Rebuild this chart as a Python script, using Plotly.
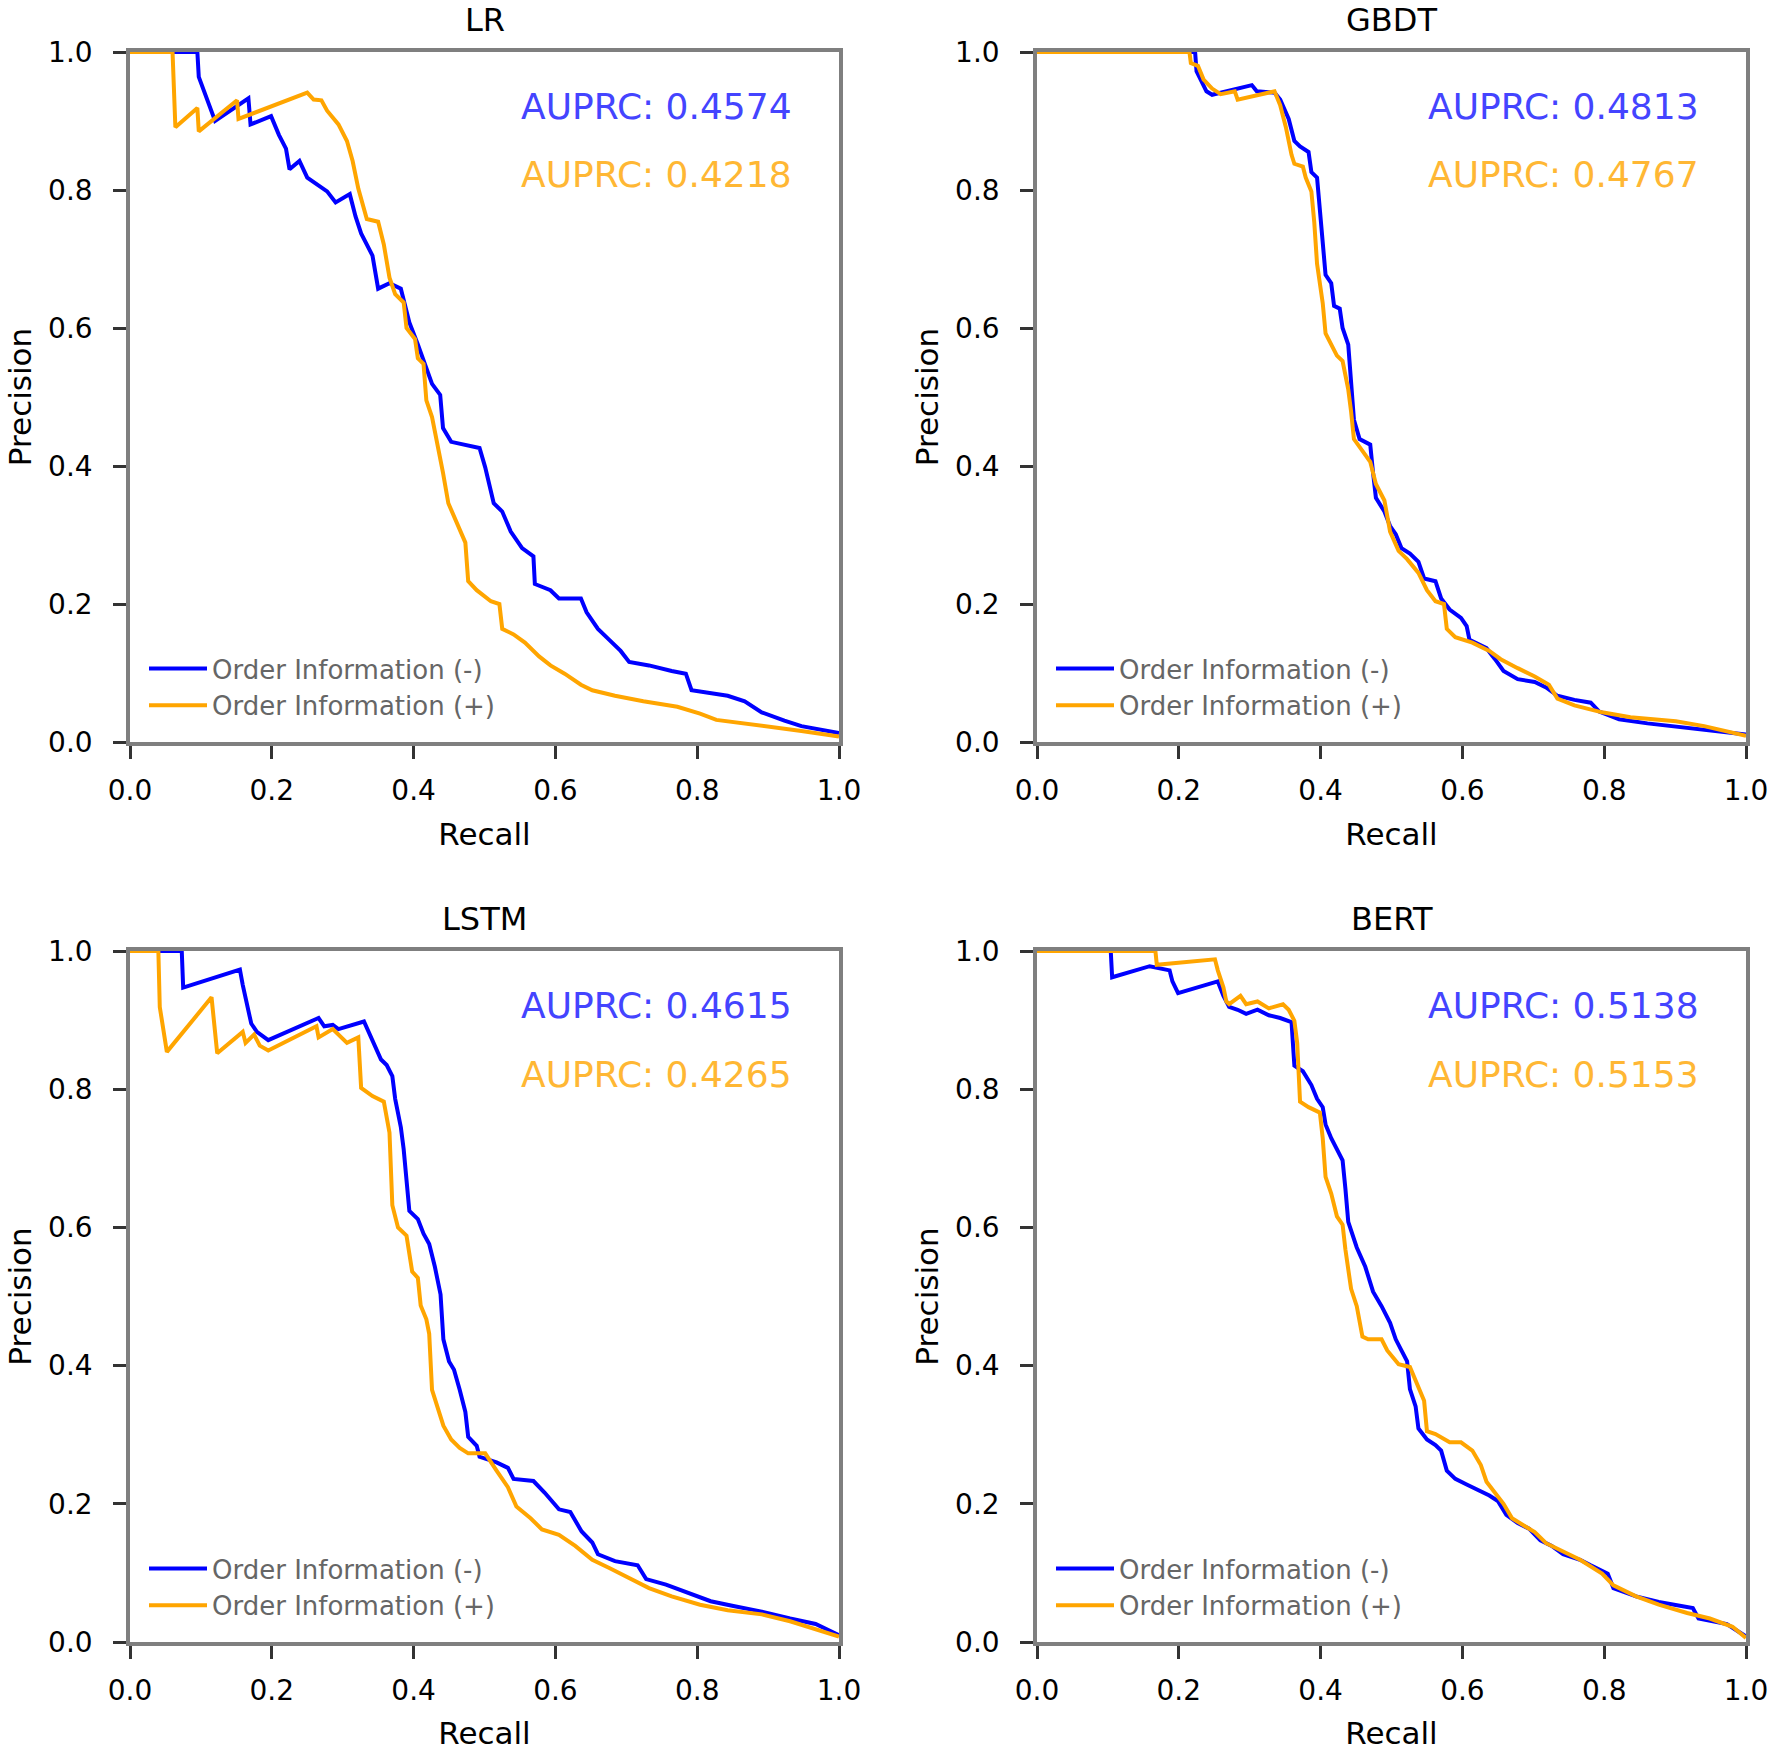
import plotly.graph_objects as go

# ---------------- data (recall, precision) ----------------
MODELS = ["LR", "GBDT", "LSTM", "BERT"]
SERIES_NAMES = ["Order Information (-)", "Order Information (+)"]
AUPRC_NEG = [0.4574, 0.4813, 0.4615, 0.5138]
AUPRC_POS = [0.4218, 0.4767, 0.4265, 0.5153]
TICKS = [0.0, 0.2, 0.4, 0.6, 0.8, 1.0]

LR_NEG = [(0,1),(0.095,1),(0.097,0.964),(0.11,0.93),(0.12,0.90),(0.167,0.933),(0.170,0.895),(0.199,0.907),(0.21,0.88),(0.22,0.86),(0.225,0.83),(0.239,0.842),(0.25,0.818),(0.278,0.798),(0.29,0.782),(0.31,0.794),(0.318,0.762),(0.326,0.737),(0.342,0.705),(0.35,0.657),(0.366,0.665),(0.382,0.657),(0.394,0.608),(0.406,0.576),(0.414,0.552),(0.426,0.519),(0.4375,0.503),(0.4415,0.455),(0.453,0.435),(0.469,0.431),(0.493,0.426),(0.501,0.398),(0.513,0.346),(0.525,0.334),(0.537,0.305),(0.553,0.281),(0.569,0.269),(0.571,0.229),(0.593,0.220),(0.605,0.208),(0.636,0.208),(0.644,0.188),(0.660,0.164),(0.676,0.148),(0.692,0.132),(0.704,0.116),(0.732,0.111),(0.764,0.103),(0.784,0.099),(0.792,0.075),(0.819,0.071),(0.843,0.067),(0.867,0.059),(0.891,0.043),(0.923,0.031),(0.947,0.023),(1.0,0.013)]
LR_POS = [(0,1),(0.06,1),(0.064,0.891),(0.095,0.919),(0.097,0.885),(0.151,0.93),(0.153,0.903),(0.25,0.941),(0.259,0.931),(0.27,0.93),(0.278,0.915),(0.294,0.895),(0.306,0.871),(0.314,0.842),(0.322,0.802),(0.330,0.770),(0.334,0.758),(0.35,0.754),(0.358,0.721),(0.366,0.673),(0.374,0.649),(0.386,0.637),(0.39,0.600),(0.402,0.584),(0.406,0.556),(0.414,0.548),(0.418,0.495),(0.426,0.471),(0.434,0.431),(0.4415,0.390),(0.449,0.346),(0.457,0.326),(0.465,0.309),(0.473,0.289),(0.477,0.233),(0.489,0.220),(0.509,0.204),(0.521,0.200),(0.525,0.164),(0.541,0.156),(0.557,0.144),(0.577,0.124),(0.593,0.111),(0.613,0.099),(0.636,0.083),(0.652,0.075),(0.684,0.067),(0.724,0.059),(0.772,0.051),(0.804,0.041),(0.827,0.032),(0.891,0.024),(0.947,0.016),(1.0,0.008)]

GBDT_NEG = [(0,1),(0.223,1),(0.225,0.972),(0.231,0.960),(0.239,0.943),(0.247,0.938),(0.303,0.952),(0.31,0.943),(0.335,0.941),(0.343,0.931),(0.355,0.903),(0.363,0.871),(0.371,0.863),(0.383,0.855),(0.387,0.826),(0.395,0.818),(0.399,0.770),(0.403,0.729),(0.407,0.677),(0.415,0.665),(0.419,0.632),(0.427,0.628),(0.431,0.600),(0.439,0.576),(0.443,0.527),(0.447,0.467),(0.455,0.439),(0.470,0.431),(0.474,0.390),(0.478,0.354),(0.490,0.334),(0.498,0.313),(0.506,0.301),(0.514,0.281),(0.526,0.273),(0.538,0.261),(0.546,0.237),(0.562,0.233),(0.570,0.208),(0.582,0.192),(0.598,0.180),(0.606,0.168),(0.610,0.148),(0.634,0.136),(0.646,0.120),(0.658,0.103),(0.678,0.091),(0.702,0.087),(0.718,0.079),(0.734,0.067),(0.758,0.061),(0.781,0.057),(0.793,0.044),(0.821,0.033),(0.861,0.027),(0.901,0.022),(0.941,0.017),(1.0,0.011)]
GBDT_POS = [(0,1),(0.215,1),(0.217,0.984),(0.227,0.98),(0.235,0.96),(0.247,0.947),(0.259,0.939),(0.279,0.943),(0.283,0.931),(0.335,0.943),(0.343,0.923),(0.351,0.891),(0.359,0.851),(0.363,0.838),(0.375,0.834),(0.379,0.818),(0.387,0.798),(0.391,0.754),(0.395,0.693),(0.403,0.636),(0.407,0.592),(0.415,0.576),(0.423,0.560),(0.431,0.552),(0.439,0.511),(0.443,0.479),(0.447,0.439),(0.459,0.422),(0.470,0.406),(0.478,0.374),(0.490,0.350),(0.498,0.305),(0.510,0.277),(0.522,0.265),(0.538,0.245),(0.550,0.220),(0.562,0.204),(0.574,0.200),(0.578,0.164),(0.590,0.152),(0.614,0.144),(0.638,0.132),(0.654,0.120),(0.678,0.107),(0.702,0.095),(0.722,0.083),(0.734,0.063),(0.758,0.053),(0.797,0.043),(0.837,0.036),(0.901,0.030),(0.941,0.023),(1.0,0.009)]

LSTM_NEG = [(0,1),(0.073,1),(0.075,0.947),(0.155,0.973),(0.159,0.951),(0.167,0.915),(0.171,0.895),(0.179,0.883),(0.195,0.871),(0.266,0.903),(0.274,0.891),(0.286,0.893),(0.294,0.887),(0.330,0.898),(0.338,0.879),(0.346,0.863),(0.354,0.843),(0.362,0.835),(0.370,0.819),(0.374,0.786),(0.382,0.745),(0.386,0.713),(0.390,0.668),(0.394,0.624),(0.406,0.612),(0.414,0.591),(0.422,0.576),(0.430,0.543),(0.438,0.503),(0.442,0.438),(0.450,0.406),(0.457,0.394),(0.465,0.365),(0.473,0.333),(0.477,0.297),(0.489,0.284),(0.493,0.268),(0.517,0.260),(0.533,0.252),(0.541,0.236),(0.569,0.233),(0.585,0.216),(0.605,0.192),(0.621,0.188),(0.637,0.160),(0.652,0.144),(0.660,0.127),(0.684,0.117),(0.716,0.111),(0.728,0.091),(0.756,0.083),(0.788,0.071),(0.819,0.059),(0.851,0.052),(0.891,0.044),(0.931,0.034),(0.967,0.026),(1.0,0.010)]
LSTM_POS = [(0,1),(0.040,1),(0.042,0.919),(0.052,0.854),(0.115,0.933),(0.123,0.852),(0.159,0.883),(0.163,0.867),(0.175,0.879),(0.183,0.863),(0.195,0.856),(0.263,0.891),(0.266,0.875),(0.286,0.887),(0.306,0.867),(0.322,0.875),(0.326,0.802),(0.342,0.790),(0.358,0.782),(0.366,0.737),(0.370,0.632),(0.378,0.600),(0.390,0.588),(0.398,0.536),(0.406,0.527),(0.410,0.487),(0.418,0.467),(0.422,0.446),(0.426,0.365),(0.434,0.341),(0.442,0.313),(0.453,0.293),(0.465,0.281),(0.477,0.273),(0.501,0.273),(0.517,0.248),(0.533,0.224),(0.545,0.196),(0.565,0.179),(0.581,0.163),(0.605,0.155),(0.628,0.139),(0.652,0.119),(0.676,0.107),(0.700,0.095),(0.732,0.078),(0.764,0.066),(0.804,0.054),(0.843,0.046),(0.891,0.040),(0.931,0.030),(0.971,0.018),(1.0,0.008)]

BERT_NEG = [(0,1),(0.104,1),(0.106,0.962),(0.159,0.978),(0.187,0.972),(0.191,0.956),(0.199,0.939),(0.255,0.956),(0.263,0.935),(0.271,0.919),(0.283,0.915),(0.295,0.909),(0.311,0.915),(0.327,0.907),(0.343,0.903),(0.359,0.897),(0.363,0.834),(0.375,0.826),(0.387,0.806),(0.395,0.786),(0.403,0.774),(0.407,0.749),(0.415,0.729),(0.423,0.713),(0.431,0.697),(0.435,0.656),(0.439,0.608),(0.451,0.571),(0.463,0.543),(0.474,0.507),(0.486,0.486),(0.498,0.462),(0.506,0.438),(0.514,0.422),(0.522,0.406),(0.526,0.366),(0.534,0.341),(0.538,0.309),(0.550,0.293),(0.562,0.285),(0.570,0.277),(0.578,0.248),(0.590,0.236),(0.606,0.228),(0.622,0.220),(0.638,0.212),(0.650,0.204),(0.662,0.184),(0.678,0.172),(0.694,0.164),(0.710,0.147),(0.726,0.139),(0.742,0.127),(0.766,0.119),(0.781,0.111),(0.805,0.099),(0.813,0.078),(0.845,0.066),(0.877,0.058),(0.901,0.054),(0.925,0.049),(0.933,0.034),(0.973,0.026),(1.0,0.008)]
BERT_POS = [(0,1),(0.167,1),(0.169,0.980),(0.251,0.988),(0.255,0.972),(0.263,0.947),(0.267,0.927),(0.271,0.923),(0.287,0.935),(0.295,0.923),(0.311,0.927),(0.327,0.917),(0.347,0.923),(0.355,0.915),(0.363,0.899),(0.367,0.867),(0.371,0.782),(0.383,0.774),(0.399,0.766),(0.403,0.729),(0.407,0.673),(0.415,0.649),(0.423,0.616),(0.431,0.604),(0.435,0.568),(0.443,0.511),(0.451,0.486),(0.459,0.442),(0.467,0.438),(0.486,0.438),(0.494,0.422),(0.510,0.402),(0.526,0.398),(0.538,0.370),(0.546,0.349),(0.550,0.305),(0.562,0.301),(0.582,0.289),(0.598,0.289),(0.614,0.277),(0.626,0.256),(0.634,0.232),(0.646,0.216),(0.658,0.200),(0.670,0.179),(0.702,0.159),(0.718,0.143),(0.742,0.131),(0.766,0.119),(0.797,0.099),(0.813,0.082),(0.845,0.066),(0.877,0.054),(0.917,0.042),(0.949,0.034),(0.981,0.022),(1.0,0.006)]

CURVES = {"LR": (LR_NEG, LR_POS), "GBDT": (GBDT_NEG, GBDT_POS),
          "LSTM": (LSTM_NEG, LSTM_POS), "BERT": (BERT_NEG, BERT_POS)}

# ---------------- styling ----------------
W, H = 1770, 1751
FONT = "DejaVu Sans"
BLUE = "#0000ff"
ORANGE = "#ffa500"
BLUE_TXT = "#4444ff"
ORANGE_TXT = "#ffb734"
SPINE = "#7f7f7f"

# plot-area pixel boxes: (left, right, top, bottom)
BOXES = [(130, 839, 52, 742), (1037, 1746, 52, 742),
         (130, 839, 951, 1642), (1037, 1746, 951, 1642)]

fig = go.Figure()
layout = dict(width=W, height=H, margin=dict(l=0, r=0, t=0, b=0, autoexpand=False),
              paper_bgcolor="white", plot_bgcolor="white",
              font=dict(family=FONT, color="black"), annotations=[])

for i, m in enumerate(MODELS):
    l, r, t, b = BOXES[i]
    sx = "" if i == 0 else str(i + 1)
    xa, ya = "x" + sx, "y" + sx
    leg = "legend" if i == 0 else "legend" + str(i + 1)
    neg, pos = CURVES[m]
    for pts, name, col in ((neg, SERIES_NAMES[0], BLUE), (pos, SERIES_NAMES[1], ORANGE)):
        fig.add_trace(go.Scatter(
            x=[p[0] for p in pts], y=[p[1] for p in pts], mode="lines",
            name=name, line=dict(color=col, width=4),
            xaxis=xa, yaxis=ya, legend=leg, showlegend=True))
    axcommon = dict(range=[0, 1], tickvals=TICKS, tickformat=".1f", automargin=False,
                    showgrid=False, zeroline=False, showline=True,
                    linecolor=SPINE, linewidth=3.5, mirror=True,
                    ticks="outside", ticklen=13, tickwidth=3, tickcolor="#333333",
                    tickfont=dict(size=28, family=FONT, color="black"))
    layout["xaxis" + sx] = dict(axcommon, domain=[l / W, r / W], anchor=ya,
                                ticklabelstandoff=8,
                                title=dict(text="Recall", font=dict(size=31), standoff=18))
    layout["yaxis" + sx] = dict(axcommon, domain=[1 - b / H, 1 - t / H], anchor=xa,
                                ticklabelstandoff=15,
                                title=dict(text="Precision", font=dict(size=31), standoff=8))
    layout[leg] = dict(x=(l + 14) / W, y=1 - (b - 97) / H, xanchor="left", yanchor="top",
                       bgcolor="rgba(0,0,0,0)", borderwidth=0, tracegroupgap=0,
                       font=dict(size=26, color="#666666", family=FONT), itemwidth=58)
    # subplot title
    layout["annotations"].append(dict(text=m, x=(l + r) / 2 / W, y=1 - (t - 32) / H,
                                      xref="paper", yref="paper", showarrow=False,
                                      xanchor="center", yanchor="middle",
                                      font=dict(size=32, color="black")))
    # AUPRC labels
    layout["annotations"].append(dict(text=f"AUPRC: {AUPRC_NEG[i]:.4f}", x=0.937, y=0.921,
                                      xref=xa, yref=ya, showarrow=False,
                                      xanchor="right", yanchor="middle",
                                      font=dict(size=36, color=BLUE_TXT)))
    layout["annotations"].append(dict(text=f"AUPRC: {AUPRC_POS[i]:.4f}", x=0.937, y=0.822,
                                      xref=xa, yref=ya, showarrow=False,
                                      xanchor="right", yanchor="middle",
                                      font=dict(size=36, color=ORANGE_TXT)))

fig.update_layout(**layout)
fig.write_html("out.html", config={"displayModeBar": False},
               post_script="document.body.style.margin='0px';")
